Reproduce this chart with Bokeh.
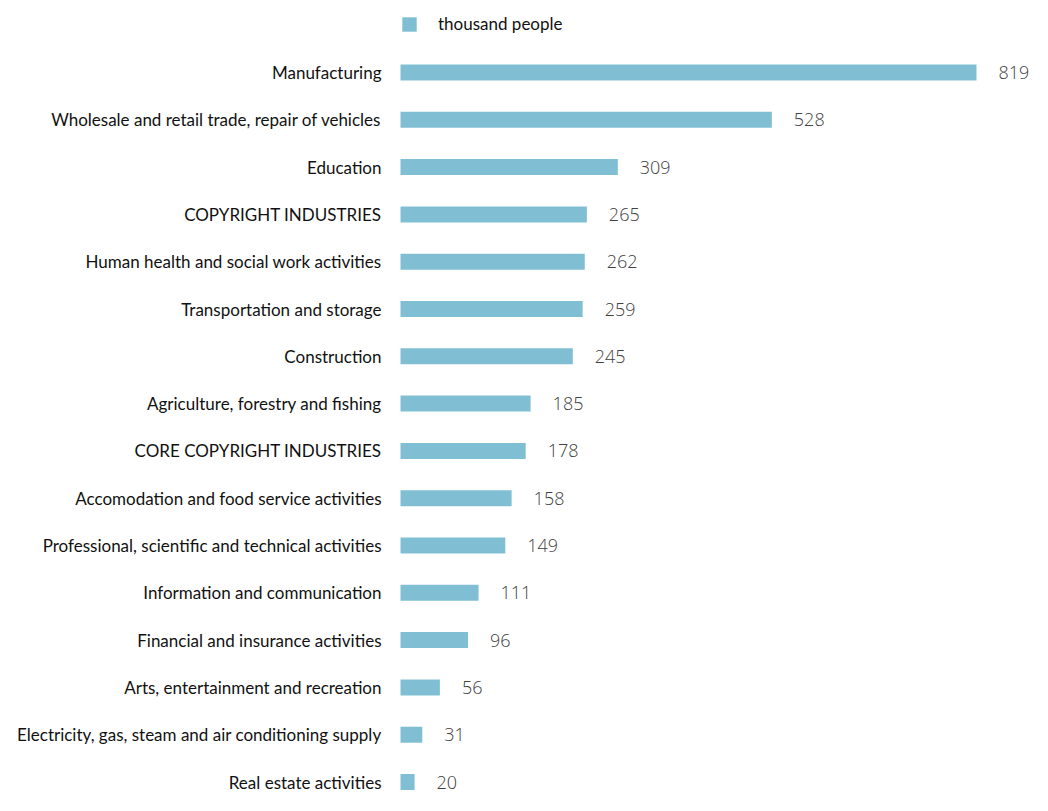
from bokeh.plotting import figure
from bokeh.models import Range1d, ColumnDataSource, Legend, LegendItem
from bokeh.core.properties import value
from bokeh.embed import file_html
from bokeh.resources import INLINE

categories = [
    "Manufacturing",
    "Wholesale and retail trade, repair of vehicles",
    "Education",
    "COPYRIGHT INDUSTRIES",
    "Human health and social work activities",
    "Transportation and storage",
    "Construction",
    "Agriculture, forestry and fishing",
    "CORE COPYRIGHT INDUSTRIES",
    "Accomodation and food service activities",
    "Professional, scientific and technical activities",
    "Information and communication",
    "Financial and insurance activities",
    "Arts, entertainment and recreation",
    "Electricity, gas, steam and air conditioning supply",
    "Real estate activities",
]
values = [819, 528, 309, 265, 262, 259, 245, 185, 178, 158, 149, 111, 96, 56, 31, 20]
series_name = "thousand people"

BAR = "#80bfd3"
LABEL_FONT = "Lato"
VALUE_FONT = "'Open Sans Light', 'Open Sans', sans-serif"

W, H = 1032, 795
pitch = 47.3
row0 = 72.0
scale = 576 / 819
x0px = 400.0

src = ColumnDataSource(dict(
    y=list(range(len(categories))),
    v=values,
    cat=categories,
    lbl=[str(v) for v in values],
    zero=[0] * len(values),
))

p = figure(
    width=W, height=H, output_backend="svg", toolbar_location=None,
    x_range=Range1d(-x0px / scale, (W - x0px) / scale),
    y_range=Range1d((H - row0) / pitch, -row0 / pitch),
    min_border=0, outline_line_color=None,
)
p.axis.visible = False
p.grid.visible = False

bars = p.hbar(y="y", left=0, right="v", height=16 / pitch, source=src,
              fill_color=BAR, line_color=None)

p.text(x="zero", y="y", text="cat", source=src, x_offset=-19,
       text_align="right", text_baseline="middle",
       text_font=value(LABEL_FONT), text_font_size="17px", text_color="#111111")

p.text(x="v", y="y", text="lbl", source=src, x_offset=22,
       text_align="left", text_baseline="middle",
       text_font=value(VALUE_FONT), text_font_size="18px", text_color="#404040")

legend = Legend(
    items=[LegendItem(label=series_name, renderers=[bars])],
    location=(int(x0px), H - 15 - 19),
    orientation="horizontal",
    glyph_width=18, glyph_height=18, label_height=18, label_standoff=20,
    padding=0, margin=0, spacing=0,
    border_line_color=None, background_fill_alpha=0,
    label_text_font=LABEL_FONT, label_text_font_size="17px",
    label_text_color="#111111", label_text_baseline="middle",
)
p.add_layout(legend)

open("out.html", "w").write(file_html(p, INLINE))
